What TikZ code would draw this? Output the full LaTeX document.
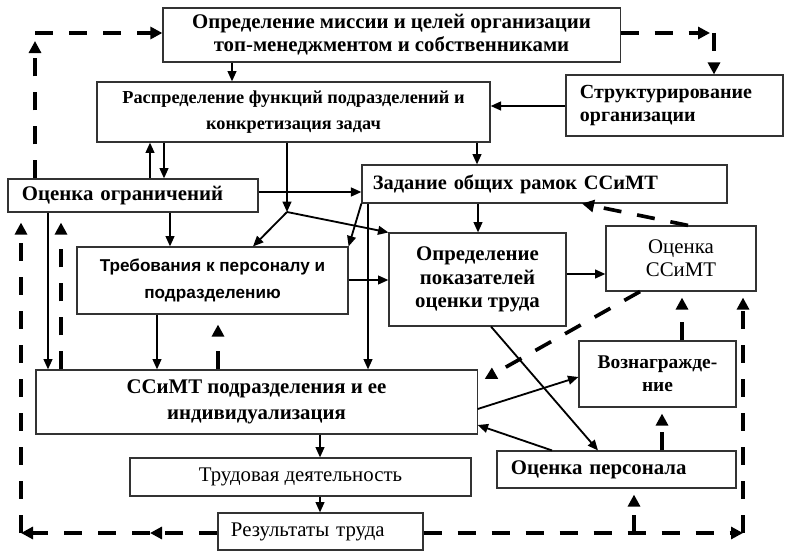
\documentclass[tikz,border=0pt]{standalone}
\usepackage{fontspec}
\setmainfont{Liberation Serif}
\setsansfont{Liberation Sans}
\usetikzlibrary{arrows.meta}

\begin{document}
\begin{tikzpicture}[x=0.025cm, y=-0.025cm,
    box/.style={draw=black!80, line width=0.8pt, align=center, inner sep=2pt, font=\fontsize{14.8}{16.5}\selectfont\bfseries},
    lbox/.style={box, align=left, inner xsep=0.35cm},
    arr/.style={line width=1.3pt, -{Triangle[length=2.6mm,width=2.2mm]}},
    darr/.style={line width=2.6pt, dash pattern=on 0.45cm off 0.4cm, -{Triangle[length=3mm,width=3mm]}}]
    \useasboundingbox (0,0) rectangle (794,557);
    % blocks
    \node[box, minimum width=11.425cm, minimum height=1.35cm] (mis) at (391.5,35) {Определение миссии и целей организации\\топ-менеджментом и собственниками};
    \node[box, minimum width=9.825cm, minimum height=1.5cm, font=\fontsize{13}{19}\selectfont\bfseries] (fun) at (293.5,112) {Распределение функций подразделений и\\конкретизация задач};
    \node[lbox, text width=4.725cm, minimum height=1.525cm, font=\fontsize{14.2}{16}\selectfont\bfseries] (str) at (674.5,105.5) {Структурирование\\организации};
    \node[lbox, text width=5.55cm, minimum height=0.825cm] (ogr) at (133,195.5) {Оценка ограничений};
    \node[lbox, text width=8.575cm, inner xsep=0.275cm, minimum height=0.95cm, font=\fontsize{14.5}{16.5}\selectfont\bfseries] (ram) at (544.5,184) {Задание общих рамок ССиМТ};
    \node[box, minimum width=6.775cm, minimum height=1.675cm, font=\sffamily\bfseries\fontsize{12.2}{19}\selectfont] (treb) at (212.5,280.5) {Требования к персоналу и\\подразделению};
    \node[box, minimum width=4.425cm, minimum height=2.325cm] (pok) at (477.5,279.5) {Определение\\показателей\\оценки труда};
    \node[box, minimum width=3.75cm, minimum height=1.625cm, font=\fontsize{14.8}{16.5}\selectfont] (ocs) at (681,258.5) {Оценка\\ССиМТ};
    \node[box, minimum width=11.025cm, minimum height=1.6cm, font=\fontsize{14.8}{18}\selectfont\bfseries] (ssi) at (256.5,402) {ССиМТ подразделения и ее\\индивидуализация};
    \node[box, minimum width=3.925cm, minimum height=1.65cm, font=\fontsize{13.8}{16.5}\selectfont\bfseries] (voz) at (657.5,374) {Вознагражде-\\ние};
    \node[box, minimum width=8.525cm, minimum height=0.95cm, font=\fontsize{14.8}{16.5}\selectfont] (trud) at (300.5,477) {Трудовая деятельность};
    \node[lbox, text width=5.275cm, minimum height=0.925cm] (per) at (616.5,469.5) {Оценка персонала};
    \node[lbox, text width=4.475cm, inner xsep=0.325cm, minimum height=0.925cm, font=\fontsize{14.8}{16.5}\selectfont] (rez) at (320.5,531.5) {Результаты труда};
    % corners of the feedback loops
    \coordinate (jn) at (287,212);
    \coordinate (tl) at (35,33);
    \coordinate (tr) at (714,33);
    \coordinate (bl) at (21,533);
    \coordinate (bm) at (150,533);
    \coordinate (bp) at (634,533);
    \coordinate (br) at (743,533);
    % solid links
    \draw[arr] (mis.south -| 232,0) -- (fun.north -| 232,0);
    \draw[arr] (str.west |- 0,106) -- (fun.east |- 0,106);
    \draw[arr] (fun.south -| 477,0) -- (ram.north -| 477,0);
    \draw[arr] (ogr.north -| 150,0) -- (fun.south -| 150,0);
    \draw[arr] (fun.south -| 164,0) -- (ogr.north -| 164,0);
    \draw[arr] (fun.south -| jn) -- (jn);
    \draw[arr] (jn) -- (treb.north -| 253,0);
    \draw[arr] (jn) -- (pok.north west);
    \draw[arr] (ogr.east |- 0,192) -- (ram.west |- 0,192);
    \draw[arr] (ogr.south -| 170,0) -- (treb.north -| 170,0);
    \draw[arr] (ogr.south -| 48,0) -- (ssi.north -| 48,0);
    \draw[arr] (ram.south west) -- (treb.north east);
    \draw[arr] (ram.south -| 368,0) -- (ssi.north -| 368,0);
    \draw[arr] (ram.south -| 478,0) -- (pok.north -| 478,0);
    \draw[arr] (treb.east |- 0,280) -- (pok.west |- 0,280);
    \draw[arr] (treb.south -| 157,0) -- (ssi.north -| 157,0);
    \draw[arr] (pok.east |- 0,274) -- (ocs.west |- 0,274);
    \draw[arr] (pok.south -| 491,0) -- (per.north -| 598,0);
    \draw[arr] (ssi.east |- 0,409) -- (voz.west |- 0,377);
    \draw[arr] (per.north -| 552,0) -- (ssi.east |- 0,425);
    \draw[arr] (ssi.south -| 320,0) -- (trud.north -| 320,0);
    \draw[arr] (trud.south -| 320,0) -- (rez.north -| 320,0);
    % dashed feedback
    \draw[darr, shorten >=2mm] (ogr.north -| tl) -- (tl);
    \draw[darr] (tl) -- (mis.west |- tl);
    \draw[darr, shorten >=1mm] (mis.east |- tr) -- (tr);
    \draw[darr] (tr) -- (str.north -| tr);
    \draw[darr] (rez.west |- bl) -- (bm);
    \draw[darr] (bm) -- (bl);
    \draw[darr, shorten >=2.5mm] (bl) -- (ogr.south -| bl);
    \draw[darr] (rez.east |- br) -- (br);
    \draw[darr, shorten >=1.5mm] (br) -- (ocs.south -| br);
    \draw[darr, shorten >=1.5mm] (bp) -- (per.south -| bp);
    \draw[darr, shorten >=1.5mm] (per.north -| 662,0) -- (voz.south -| 662,0);
    \draw[darr, shorten >=1.5mm] (voz.north -| 682,0) -- (ocs.south -| 682,0);
    \draw[darr] (ocs.north -| 688,0) -- (ram.south -| 582,0);
    \draw[darr, shorten >=2mm] (ocs.south -| 640,0) -- (ssi.east |- 0,383);
    \draw[darr, shorten >=2.5mm] (ssi.north -| 61,0) -- (ogr.south -| 61,0);
    \draw[darr, shorten >=2.5mm] (ssi.north -| 218,0) -- (treb.south -| 218,0);
\end{tikzpicture}
\end{document}
